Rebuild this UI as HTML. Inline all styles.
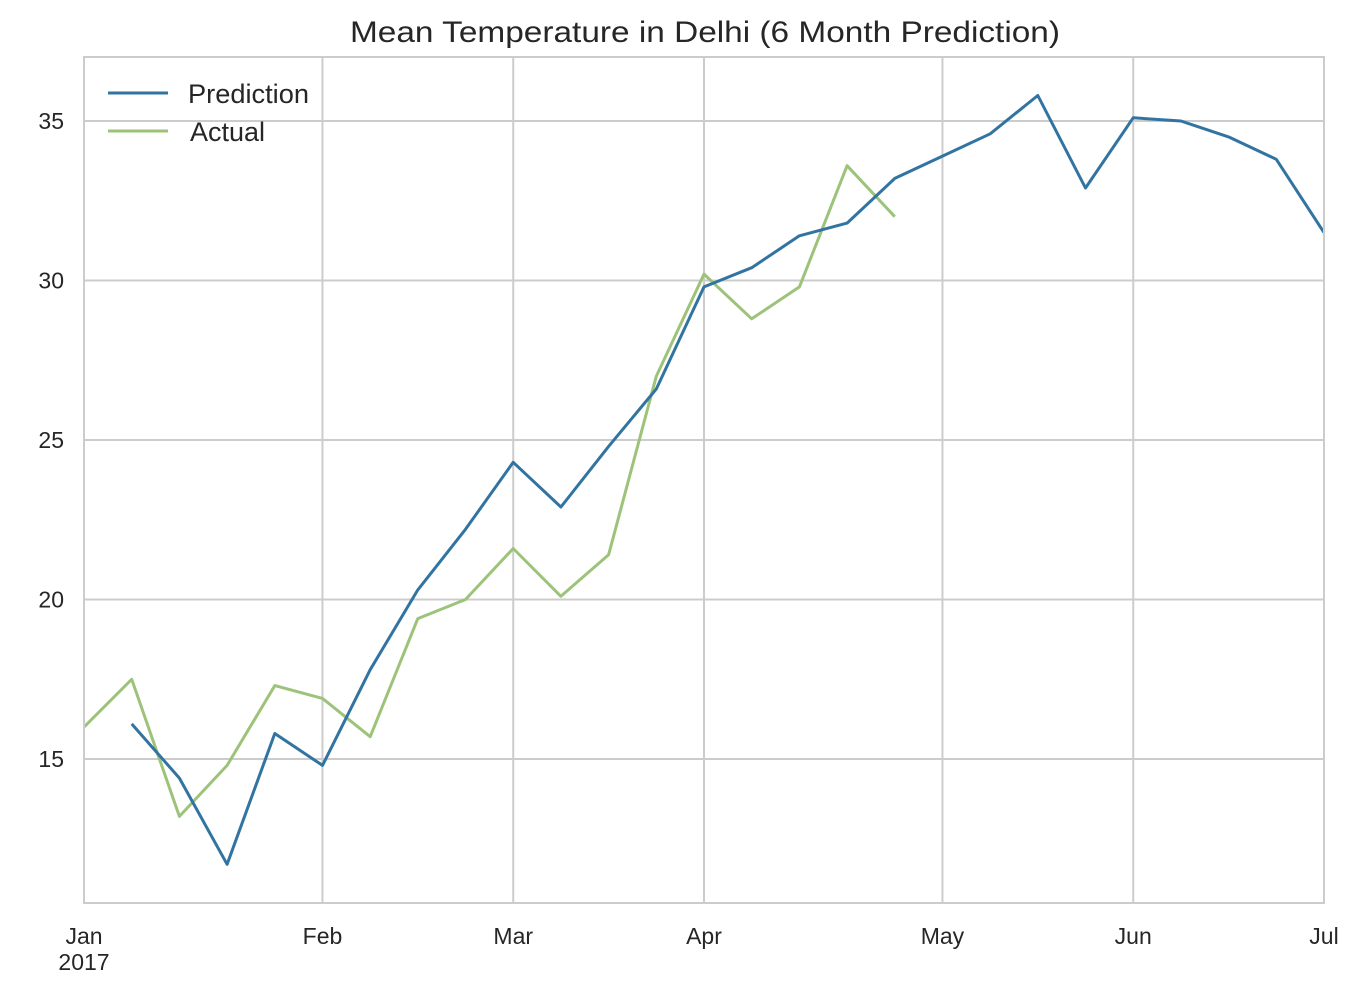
<!DOCTYPE html>
<html><head><meta charset="utf-8"><style>
body{margin:0;background:#fff;}
svg text{font-family:"Liberation Sans","DejaVu Sans",sans-serif;fill:#262626;}
</style></head><body>
<svg id="chart" width="1370" height="988" xmlns="http://www.w3.org/2000/svg">
<text x="350" y="42" font-size="30" textLength="710" lengthAdjust="spacingAndGlyphs">Mean Temperature in Delhi (6 Month Prediction)</text>
<g id="grid"></g>
<g id="series"></g>
<rect x="84" y="57" width="1240" height="846" fill="none" stroke="#cccccc" stroke-width="2"/>
<g id="ticks"></g>
<g>
<line x1="108" y1="93" x2="168" y2="93" stroke="#3274a1" stroke-width="3"/>
<text x="188" y="103" font-size="27" textLength="121" lengthAdjust="spacingAndGlyphs">Prediction</text>
<line x1="108" y1="131" x2="168" y2="131" stroke="#9dc37a" stroke-width="3"/>
<text x="190" y="141" font-size="27" textLength="75" lengthAdjust="spacingAndGlyphs">Actual</text>
</g>
</svg>
<script>
const actual=[16.0,17.5,13.2,14.8,17.3,16.9,15.7,19.4,20.0,21.6,20.1,21.4,27.0,30.2,28.8,29.8,33.6,32.0];
const prediction=[null,16.1,14.4,11.7,15.8,14.8,17.8,20.3,22.2,24.3,22.9,24.8,26.6,29.8,30.4,31.4,31.8,33.2,33.9,34.6,35.8,32.9,35.1,35.0,34.5,33.8,31.5];
const yTicks=[15,20,25,30,35];
const monthLabels=["Jan","Feb","Mar","Apr","May","Jun","Jul"];
const monthWeeks=[0,5,9,13,18,22,26];
const NS="http://www.w3.org/2000/svg";
const x=i=>84+i*(1240/26);
const y=v=>121+(35-v)*31.9;
function mk(tag,attrs,parent){const e=document.createElementNS(NS,tag);for(const k in attrs)e.setAttribute(k,attrs[k]);document.getElementById(parent).appendChild(e);return e;}
yTicks.forEach(v=>{
 const l=mk('line',{x1:84,x2:1324,y1:y(v),y2:y(v),stroke:'#cccccc','stroke-width':2},'grid');
 
 
 const t=mk('text',{x:64,y:y(v)+8,'font-size':23,'text-anchor':'end'},'ticks');
 t.textContent=v;
 
 
});
monthWeeks.forEach((w,k)=>{
 const l=mk('line',{x1:x(w),x2:x(w),y1:57,y2:903,stroke:'#cccccc','stroke-width':2},'grid');
 
 
 const t=mk('text',{x:x(w),y:944,'font-size':23,'text-anchor':'middle'},'ticks');
 t.textContent=monthLabels[k];
 
 
});
const yr=mk('text',{x:84,y:970,'font-size':23,'text-anchor':'middle'},'ticks');
yr.textContent="2017";


function path(arr){let d='';arr.forEach((v,i)=>{if(v==null)return;d+=(d?'L':'M')+x(i).toFixed(1)+','+y(v).toFixed(1);});return d;}
const pa=mk('path',{d:path(actual),fill:'none',stroke:'#9dc37a','stroke-width':3,'stroke-linejoin':'round'},'series');


const pp=mk('path',{d:path(prediction),fill:'none',stroke:'#3274a1','stroke-width':3,'stroke-linejoin':'round'},'series');


</script>
</body></html>
